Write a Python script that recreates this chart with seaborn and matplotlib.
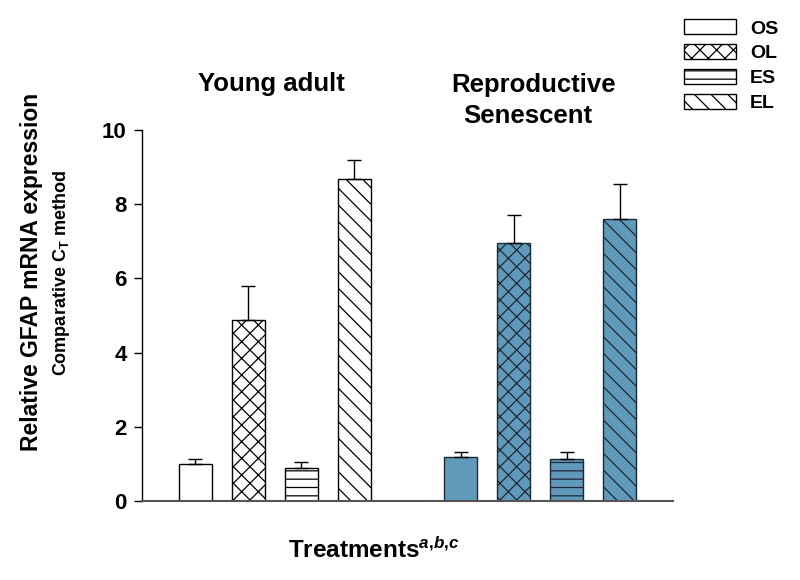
import seaborn as sns
import matplotlib.pyplot as plt
import pandas as pd
from matplotlib.patches import Patch

# data
groups = ["Young adult", "Young adult", "Young adult", "Young adult",
          "Reproductive Senescent", "Reproductive Senescent",
          "Reproductive Senescent", "Reproductive Senescent"]
treatments = ["OS", "OL", "ES", "EL", "OS", "OL", "ES", "EL"]
slots = ["Y_OS", "Y_OL", "Y_ES", "Y_EL", "S_OS", "S_OL", "S_ES", "S_EL"]
means = [1.0, 4.87, 0.88, 8.68, 1.20, 6.95, 1.13, 7.60]
sems = [0.14, 0.93, 0.17, 0.51, 0.13, 0.75, 0.19, 0.94]

order = ["Y_OS", "Y_OL", "Y_ES", "Y_EL", "gap", "S_OS", "S_OL", "S_ES", "S_EL"]
hatch_map = {"OS": "", "OL": "xx", "ES": "--", "EL": "\\\\"}
blue = "#6199BA"

df = pd.DataFrame({"slot": slots, "group": groups, "treat": treatments,
                   "mean": means, "sem": sems})

sns.set_style("ticks")
plt.rcParams["font.family"] = ["Liberation Sans", "DejaVu Sans"]
plt.rcParams["font.weight"] = "bold"
plt.rcParams["text.color"] = "black"
plt.rcParams["axes.labelcolor"] = "black"
plt.rcParams["xtick.color"] = "black"
plt.rcParams["ytick.color"] = "black"
plt.rcParams["axes.edgecolor"] = "black"
plt.rcParams["mathtext.fontset"] = "custom"
plt.rcParams["mathtext.rm"] = "Liberation Sans:bold"
plt.rcParams["mathtext.it"] = "Liberation Sans:bold:italic"
plt.rcParams["mathtext.bf"] = "Liberation Sans:bold"
plt.rcParams["hatch.linewidth"] = 0.9

fig = plt.figure(figsize=(8, 5.8), dpi=100)
ax = fig.add_axes([0.1775, 0.136, 0.6638, 0.64])

sns.barplot(data=df, x="slot", y="mean", order=order, width=0.62,
            color="white", edgecolor="black", linewidth=1.0, ax=ax,
            errorbar=None)

for p, slot in zip(ax.patches, [s for s in order if s != "gap"]):
    row = df[df.slot == slot].iloc[0]
    p.set_hatch(hatch_map[row.treat])
    if slot.startswith("S_"):
        p.set_facecolor(blue)
        p.set_edgecolor("#1b2b36")

xpos = [order.index(s) for s in slots]
ax.errorbar(xpos, means, yerr=[[0] * len(sems), sems], fmt="none",
            ecolor="black", elinewidth=1.0, capsize=5, capthick=1.0, zorder=3)

ax.set_xlim(-1, 9)
ax.set_ylim(0, 10)
ax.set_yticks([0, 2, 4, 6, 8, 10])
ax.set_xticks([])
ax.set_xlabel("")
ax.set_ylabel("")
ax.tick_params(axis="y", labelsize=16, length=6, width=1, direction="out",
               pad=5)
for t in ax.get_yticklabels():
    t.set_fontweight("bold")
sns.despine(ax=ax)
ax.spines["left"].set_linewidth(1.0)
ax.spines["bottom"].set_color("#555555")
ax.spines["bottom"].set_linewidth(1.5)

# group labels
ax.text(1.44, 11.05, "Young adult", ha="center", va="baseline", fontsize=18.5,
        fontweight="bold", clip_on=False)
ax.text(6.37, 11.03, "Reproductive", ha="center", va="baseline",
        fontsize=18.5, fontweight="bold", clip_on=False)
ax.text(6.27, 10.19, "Senescent", ha="center", va="baseline",
        fontsize=18.5, fontweight="bold", clip_on=False)

# axis labels
fig.text(0.040, 0.531, "Relative GFAP mRNA expression", rotation=90,
         ha="center", va="center", fontsize=16.5, fontweight="bold")
fig.text(0.0775, 0.529, r"Comparative C$_\mathrm{T}$ method", rotation=90,
         ha="center", va="center", fontsize=13, fontweight="bold")
fig.text(0.4675, 0.038, r"Treatments$^{a{,}b{,}c}$", ha="center",
         va="baseline", fontsize=17.5, fontweight="bold")

handles = [Patch(facecolor="white", edgecolor="black", hatch=hatch_map[t],
                 linewidth=1.0) for t in ["OS", "OL", "ES", "EL"]]
fig.legend(handles, ["OS", "OL", "ES", "EL"], loc="upper left",
           bbox_to_anchor=(0.833, 0.997), frameon=False,
           handlelength=2.7, handleheight=0.82, labelspacing=0.34,
           handletextpad=0.7, prop={"weight": "bold", "size": 14})

fig.savefig("out.png", dpi=100)
